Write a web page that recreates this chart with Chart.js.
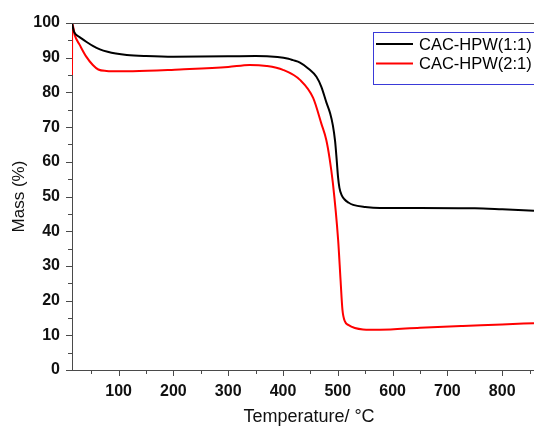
<!DOCTYPE html>
<html lang="en">
<head>
    <title>TGA curves</title>
    <script src="https://cdn.jsdelivr.net/npm/chart.js"></script>
    <style>
        html, body { margin: 0; padding: 0; background: #fff; }
        #wrap { width: 534px; height: 426px; }
    </style>
</head>
<body>
    <div id="wrap"><canvas id="tgaChart" width="534" height="426"></canvas></div>

    <script>
        // data (temperature in °C, mass in %)
        const seriesNames = ['CAC-HPW(1:1)', 'CAC-HPW(2:1)'];
        const seriesColors = ['#000000', '#ff0000'];

        const tempA = [15, 18, 22, 30, 41, 53, 66, 80, 95, 115, 150, 200, 300, 350, 390, 410, 418, 431, 446, 461, 470, 479, 486, 491, 495, 498, 500.5, 503, 507, 512, 520, 528, 550, 577, 650, 750, 800, 858];
        const massA = [100, 97.8, 96.7, 95.8, 94.6, 93.4, 92.4, 91.7, 91.2, 90.8, 90.5, 90.3, 90.4, 90.5, 90.2, 89.7, 89.3, 88.6, 86.9, 84.5, 81.6, 77.2, 74, 70.5, 66, 60.5, 55.5, 52.5, 50.4, 49.2, 48.2, 47.6, 47, 46.7, 46.7, 46.6, 46.3, 45.9];

        const tempB = [15, 15.3, 20, 29, 41, 53, 63, 78, 100, 126, 212, 300, 339, 370, 400, 431, 455, 470, 479, 485, 491, 500.6, 505, 508.5, 513, 519, 546, 577, 650, 728, 800, 858];
        const massB = [85, 100, 96.5, 93.7, 90.3, 87.9, 86.6, 86.2, 86.1, 86.1, 86.6, 87.3, 87.9, 87.6, 86.5, 83.6, 78.4, 71, 66.3, 61, 53.9, 37.5, 26, 17.3, 14, 13, 11.7, 11.6, 12.2, 12.7, 13.1, 13.5];

        const xTicks = [100, 200, 300, 400, 500, 600, 700, 800];
        const yTicks = [0, 10, 20, 30, 40, 50, 60, 70, 80, 90, 100];

        const axisColor = '#4a4a4a';
        const fontFamily = '"Liberation Sans", Arial, sans-serif';

        // tick marks (major + minor), top frame line, x title and legend
        const frame = {
            id: 'frame',
            afterDraw(chart) {
                const ctx = chart.ctx;
                const a = chart.chartArea;
                const xs = chart.scales.x, ys = chart.scales.y;
                ctx.save();
                ctx.strokeStyle = axisColor;
                ctx.lineWidth = 1;
                ctx.beginPath();
                ctx.moveTo(a.left, a.top + 0.5);
                ctx.lineTo(a.right, a.top + 0.5);
                for (let v = 50; v <= 850; v += 50) {
                    const px = Math.round(xs.getPixelForValue(v)) + 0.5;
                    const len = v % 100 === 0 ? 6 : 4;
                    ctx.moveTo(px, a.bottom);
                    ctx.lineTo(px, a.bottom + len);
                }
                for (let v = 0; v <= 100; v += 5) {
                    const py = Math.round(ys.getPixelForValue(v)) + 0.5;
                    const len = v % 10 === 0 ? 6 : 4;
                    ctx.moveTo(a.left, py);
                    ctx.lineTo(a.left - len, py);
                }
                ctx.stroke();

                // x axis title (the original plot runs a little past the right edge)
                ctx.fillStyle = '#111';
                ctx.font = '18px ' + fontFamily;
                ctx.textAlign = 'center';
                ctx.textBaseline = 'alphabetic';
                ctx.fillText('Temperature/ °C', 309, 422);

                // legend box
                ctx.textAlign = 'left';
                ctx.strokeStyle = '#3a3ad8';
                ctx.strokeRect(373.5, 32.5, 162, 52);
                ctx.font = '16.5px ' + fontFamily;
                ctx.textBaseline = 'middle';
                ctx.fillStyle = '#000';
                const rows = [44, 63.5];
                chart.data.datasets.forEach((ds, i) => {
                    ctx.strokeStyle = ds.borderColor;
                    ctx.lineWidth = 2;
                    ctx.beginPath();
                    ctx.moveTo(376, rows[i]);
                    ctx.lineTo(413, rows[i]);
                    ctx.stroke();
                    ctx.fillText(ds.label, 419, rows[i] + 1);
                });
                ctx.restore();
            }
        };

        const tickFont = { family: fontFamily, size: 16, weight: 'bold' };

        new Chart(document.getElementById('tgaChart'), {
            type: 'line',
            data: {
                datasets: [
                    {
                        label: seriesNames[0],
                        data: tempA.map((t, i) => ({ x: t, y: massA[i] })),
                        borderColor: seriesColors[0],
                        borderWidth: 2,
                        pointRadius: 0,
                        cubicInterpolationMode: 'monotone'
                    },
                    {
                        label: seriesNames[1],
                        data: tempB.map((t, i) => ({ x: t, y: massB[i] })),
                        borderColor: seriesColors[1],
                        borderWidth: 2,
                        pointRadius: 0,
                        cubicInterpolationMode: 'monotone'
                    }
                ]
            },
            options: {
                responsive: false,
                animation: false,
                devicePixelRatio: 1,
                layout: { padding: { top: 23, right: 0, left: 0, bottom: 0 } },
                plugins: { legend: { display: false }, tooltip: { enabled: false } },
                scales: {
                    x: {
                        type: 'linear',
                        min: 15,
                        max: 858,
                        afterBuildTicks: s => { s.ticks = xTicks.map(v => ({ value: v })); },
                        afterFit: s => { s.height = 56; },
                        grid: { display: false, drawTicks: false, tickLength: 0 },
                        border: { display: true, color: axisColor, width: 1 },
                        ticks: { font: tickFont, color: '#111', padding: 12, maxRotation: 0 },
                        title: { display: false }
                    },
                    y: {
                        min: 0,
                        max: 100,
                        afterBuildTicks: s => { s.ticks = yTicks.map(v => ({ value: v })); },
                        afterFit: s => { s.width = 72; },
                        grid: { display: false, drawTicks: false, tickLength: 0 },
                        border: { display: true, color: axisColor, width: 1 },
                        ticks: { font: tickFont, color: '#111', padding: 12 },
                        title: { display: true, text: 'Mass (%)', font: { family: fontFamily, size: 17 }, color: '#111', padding: { top: 9, bottom: 0 } }
                    }
                }
            },
            plugins: [frame]
        });
    </script>
</body>
</html>
